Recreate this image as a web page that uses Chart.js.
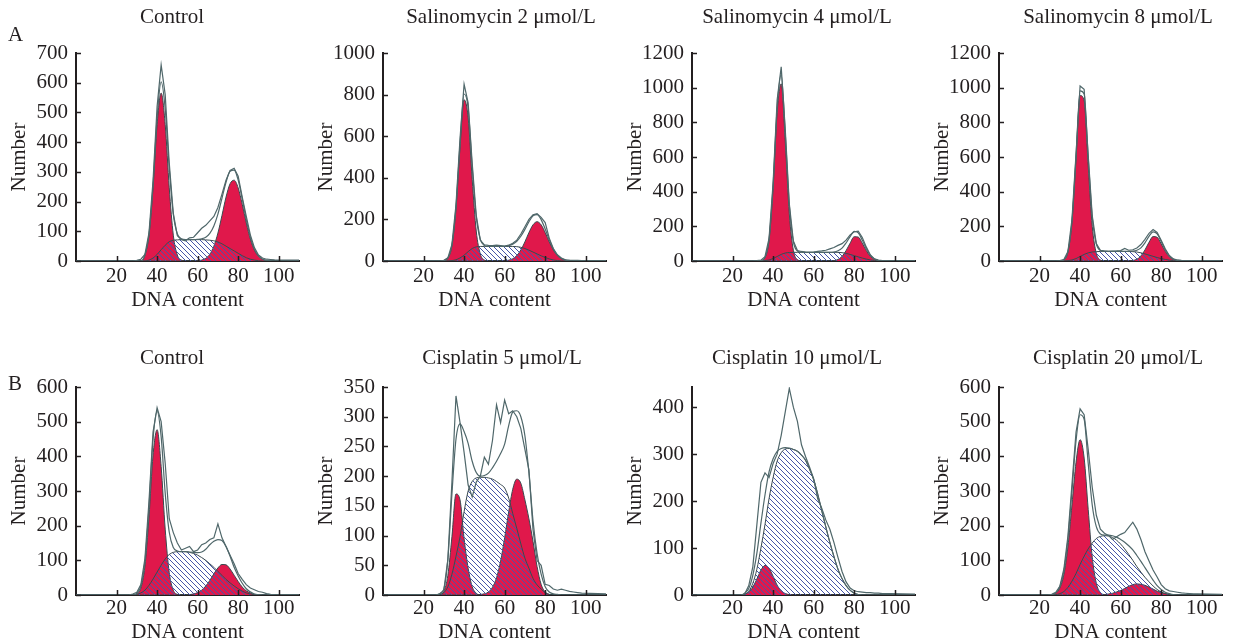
<!DOCTYPE html>
<html>
<head>
<meta charset="utf-8">
<script src="https://cdn.jsdelivr.net/npm/chart.js@4.4.0/dist/chart.umd.min.js"></script>
<style>
  body { margin: 0; background: #fff; }
  #figure { position: relative; width: 1233px; height: 643px; overflow: hidden; }
  #figure canvas { position: absolute; }
</style>
</head>
<body>
<div id="figure"></div>
<script>
// DNA content channels (x), shared by every histogram
const dnaContent = [0, 22, 24, 26, 28, 30, 32, 34, 36, 38, 40, 42, 44, 46, 48, 50, 52, 54, 56, 58, 60,
  62, 64, 66, 68, 70, 72, 74, 76, 78, 80, 82, 84, 86, 88, 90, 92, 94, 96, 98, 110];
const xTicks = [20, 40, 60, 80, 100];

const panelTitles = ['Control', 'Salinomycin 2 μmol/L', 'Salinomycin 4 μmol/L', 'Salinomycin 8 μmol/L',
  'Control', 'Cisplatin 5 μmol/L', 'Cisplatin 10 μmol/L', 'Cisplatin 20 μmol/L'];
const yMax = [700, 1000, 1200, 1200, 600, 350, 443, 600];
const yStep = [100, 200, 200, 200, 100, 50, 100, 100];

// A - control
const ctrlA_g1 = [0, 0,0,0,0,0, 0,20,87,246,459, 565,459,246,87,20, 3,0,0,0,0, 0,0,0,0,0, 0,0,0,0,0, 0,0,0,0,0, 0,0,0,0, 0];
const ctrlA_s = [0, 0,0,0,0,0, 0,0,3,10,22, 38,53,65,70,71, 72,72,72,72,72, 72,71,70,68,64, 58,50,42,34,26, 18,11,6,3,1, 0,0,0,0, 0];
const ctrlA_g2 = [0, 0,0,0,0,0, 0,0,0,0,0, 0,0,0,0,0, 0,0,0,0,1, 3,9,23,50,94, 153,215,260,272,246, 191,128,74,37,16, 6,2,1,0, 0];
const ctrlA_fit = [0, 0,0,0,0,0, 0,20,90,256,481, 603,512,311,157,91, 75,72,72,72,73, 75,80,93,118,158, 211,265,302,306,272, 209,139,80,40,17, 6,2,1,0, 0];
const ctrlA_raw = [0, 0,0,0,0,2, 6,22,95,270,520, 660,560,330,160,85, 72,68,78,80,95, 110,120,135,150,180, 225,272,305,312,285, 215,150,88,45,20, 10,6,5,4, 3];

// A - salinomycin 2
const sal2_g1 = [0, 0,0,0,0,2, 14,74,252,548,775, 690,392,144,34,5, 0,0,0,0,0, 0,0,0,0,0, 0,0,0,0,0, 0,0,0,0,0, 0,0,0,0, 0];
const sal2_s = [0, 0,0,0,0,0, 0,2,6,15,28, 45,60,68,70,70, 70,70,70,70,70, 70,70,69,66,60, 52,43,34,25,17, 10,5,2,1,0, 0,0,0,0, 0];
const sal2_g2 = [0, 0,0,0,0,0, 0,0,0,0,0, 0,0,0,0,0, 0,0,0,0,1, 4,11,26,53,92, 137,174,189,174,137, 92,53,26,11,4, 1,0,0,0, 0];
const sal2_fit = [0, 0,0,0,0,2, 14,76,258,563,803, 735,452,212,104,75, 70,70,70,70,71, 74,81,95,119,152, 189,217,223,199,154, 102,58,28,12,4, 1,0,0,0, 0];
const sal2_raw = [0, 0,0,0,0,3, 15,80,270,590,850, 760,470,220,100,78, 75,74,76,74,72, 76,85,100,130,165, 200,222,228,210,185, 110,60,30,14,6, 4,3,3,2, 2];

// A - salinomycin 4
const sal4_g1 = [0, 0,0,0,0,0, 0,2,19,119,421, 858,1022,689,272,62, 8,1,0,0,0, 0,0,0,0,0, 0,0,0,0,0, 0,0,0,0,0, 0,0,0,0, 0];
const sal4_s = [0, 0,0,0,0,0, 0,0,2,6,14, 26,38,46,49,50, 50,50,50,50,50, 50,50,50,50,50, 50,48,44,38,31, 24,17,11,6,3, 1,0,0,0, 0];
const sal4_g2 = [0, 0,0,0,0,0, 0,0,0,0,0, 0,0,0,0,0, 0,0,0,0,0, 0,0,0,0,2, 9,26,60,103,140, 138,103,60,26,9, 2,0,0,0, 0];
const sal4_fit = [0, 0,0,0,0,0, 0,2,21,125,435, 884,1075,735,321,112, 58,51,50,50,50, 50,50,50,50,52, 59,74,104,141,171, 162,120,71,32,12, 3,0,0,0, 0];
const sal4_raw = [0, 0,0,0,0,0, 2,5,25,130,450, 930,1120,760,330,115, 60,55,52,50,52, 55,58,62,70,78, 90,100,120,150,168, 172,135,80,35,12, 5,3,2,1, 1];

// A - salinomycin 8
const sal8_g1 = [0, 0,0,0,0,0, 7,52,225,590,955, 925,550,200,45,6, 0,0,0,0,0, 0,0,0,0,0, 0,0,0,0,0, 0,0,0,0,0, 0,0,0,0, 0];
const sal8_s = [0, 0,0,0,0,0, 0,2,6,14,26, 38,47,52,54,55, 55,55,55,55,55, 55,55,54,52,47, 41,34,27,20,14, 9,5,2,1,0, 0,0,0,0, 0];
const sal8_g2 = [0, 0,0,0,0,0, 0,0,0,0,0, 0,0,0,0,0, 0,0,0,0,0, 0,1,3,10,29, 64,108,141,137,99, 56,24,8,2,0, 0,0,0,0, 0];
const sal8_fit = [0, 0,0,0,0,0, 7,54,231,604,981, 963,597,252,99,61, 55,55,55,55,55, 55,56,57,62,76, 105,142,168,157,113, 65,29,10,3,0, 0,0,0,0, 0];
const sal8_raw = [0, 0,0,0,0,2, 8,55,240,620,1010, 990,610,260,100,62, 58,56,57,58,60, 72,62,65,75,95, 125,160,182,165,120, 70,32,12,6,4, 3,3,2,2, 1];

// B - control
const ctrlB_g1 = [0, 0,0,0,0,3, 20,83,225,403,477, 371,190,64,14,2, 0,0,0,0,0, 0,0,0,0,0, 0,0,0,0,0, 0,0,0,0,0, 0,0,0,0, 0];
const ctrlB_s = [0, 0,0,0,0,2, 6,14,28,46,66, 86,104,117,123,125, 125,125,123,120,115, 108,100,90,80,68, 57,45,35,26,18, 11,6,3,1,0, 0,0,0,0, 0];
const ctrlB_g2 = [0, 0,0,0,0,0, 0,0,0,0,0, 0,0,0,0,0, 0,0,1,3,7, 14,26,42,61,78, 88,87,75,57,39, 23,12,6,2,1, 0,0,0,0, 0];
const ctrlB_fit = [0, 0,0,0,0,5, 26,97,253,449,530, 457,294,181,137,127, 125,125,124,123,122, 124,132,145,155,160, 157,140,112,80,55, 34,18,9,3,1, 0,0,0,0, 0];
const ctrlB_raw = [0, 0,0,0,3,8, 30,105,270,470,540, 500,380,220,180,150, 130,135,140,125,130, 145,150,160,165,205, 165,140,115,90,62, 45,30,20,15,10, 8,4,2,1, 0];

// B - cisplatin 5
const cis5_g1 = [0, 0,0,0,1,6, 33,98,170,160,95, 45,14,3,0,0, 0,0,0,0,0, 0,0,0,0,0, 0,0,0,0,0, 0,0,0,0,0, 0,0,0,0, 0];
const cis5_s = [0, 0,0,0,1,4, 14,35,65,98,140, 175,191,197,198,198, 197,195,191,186,180, 163,137,112,86,62, 45,28,17,10,4, 1,0,0,0,0, 0,0,0,0, 0];
const cis5_g2 = [0, 0,0,0,0,0, 0,0,0,0,0, 0,0,0,1,2, 5,13,29,57,96, 140,178,195,188,160, 128,90,48,18,5, 1,0,0,0,0, 0,0,0,0, 0];
const cis5_fit = [0, 0,0,0,2,10, 60,170,262,288,275, 255,225,206,200,201, 205,214,225,238,254, 285,308,310,300,268, 205,125,70,35,14, 5,2,1,0,0, 0,0,0,0, 0];
const cis5_raw = [0, 0,0,0,2,8, 60,190,335,290,240, 185,165,190,200,232, 220,260,320,290,328, 305,310,300,280,245, 210,110,58,50,18, 16,10,8,10,8, 6,5,4,3, 2];

// B - cisplatin 10 (no G2 peak fitted)
const cis10_g1 = [0, 0,0,2,6,17, 34,53,63,57,40, 21,9,3,1,0, 0,0,0,0,0, 0,0,0,0,0, 0,0,0,0,0, 0,0,0,0,0, 0,0,0,0, 0];
const cis10_s = [0, 0,0,2,8,25, 55,100,150,205,250, 285,303,311,312,310, 306,298,287,268,246, 215,180,145,112,82, 55,35,20,10,4, 1,0,0,0,0, 0,0,0,0, 0];
const cis10_fit = [0, 0,0,4,14,42, 89,153,213,262,290, 306,312,314,313,310, 306,298,287,268,246, 215,180,145,112,82, 55,35,20,10,4, 1,0,0,0,0, 0,0,0,0, 0];
const cis10_raw = [0, 0,0,2,20,60, 150,240,260,250,280, 300,340,390,440,400, 370,320,295,272,248, 205,185,160,140,112, 80,50,28,15,9, 7,6,5,5,4, 4,3,3,3, 2];

// B - cisplatin 20
const cis20_g1 = [0, 0,0,1,5,20, 59,139,260,383,448, 395,247,109,34,7, 1,0,0,0,0, 0,0,0,0,0, 0,0,0,0,0, 0,0,0,0,0, 0,0,0,0, 0];
const cis20_s = [0, 0,0,0,1,4, 10,22,40,62,88, 112,133,150,163,169, 171,170,166,158,147, 133,117,100,82,66, 51,38,26,16,9, 4,2,0,0,0, 0,0,0,0, 0];
const cis20_g2 = [0, 0,0,0,0,0, 0,0,0,0,0, 0,0,0,0,0, 1,3,5,9,13, 19,25,30,32,31, 28,23,17,11,7, 4,2,1,0,0, 0,0,0,0, 0];
const cis20_fit = [0, 0,0,1,6,24, 69,161,300,445,520, 507,380,259,197,176, 173,173,171,167,160, 152,142,130,114,97, 79,61,43,27,16, 8,4,1,0,0, 0,0,0,0, 0];
const cis20_raw = [0, 0,0,2,8,25, 75,170,320,470,537, 520,420,310,230,190, 178,172,160,168,175, 180,195,210,190,160, 125,98,72,52,30, 18,12,10,8,6, 5,4,3,3, 2];

const series = [
  [ctrlA_g1, ctrlA_s, ctrlA_g2, ctrlA_fit, ctrlA_raw],
  [sal2_g1, sal2_s, sal2_g2, sal2_fit, sal2_raw],
  [sal4_g1, sal4_s, sal4_g2, sal4_fit, sal4_raw],
  [sal8_g1, sal8_s, sal8_g2, sal8_fit, sal8_raw],
  [ctrlB_g1, ctrlB_s, ctrlB_g2, ctrlB_fit, ctrlB_raw],
  [cis5_g1, cis5_s, cis5_g2, cis5_fit, cis5_raw],
  [cis10_g1, cis10_s, null, cis10_fit, cis10_raw],
  [cis20_g1, cis20_s, cis20_g2, cis20_fit, cis20_raw]
];

// layout (pixels)
const colLeft = [0, 307, 616, 923];
const rowTop = [0, 330], rowHeight = [312, 313], plotTop = [53, 57], xAxisH = [51, 48];
const titleY = [17, 28], letterY = [35, 54], xTickPad = [5, 3], xTitlePad = [1.5, 0];
const titleX = [172, 194, 181, 195, 172, 195, 181, 195];

const ink = '#231f20';
const trace = '#4f676a';
const edge = '#3a4a4f';
const red = '#e0184b';
const serif = '"Liberation Serif", "Times New Roman", serif';
const fontSize = 21;

function hatch(color) {
  const c = document.createElement('canvas');
  c.width = c.height = 5;
  const g = c.getContext('2d');
  g.strokeStyle = color;
  g.lineWidth = 1;
  g.beginPath();
  g.moveTo(-1, -1); g.lineTo(6, 6);
  g.moveTo(-1, 4); g.lineTo(1, 6);
  g.moveTo(4, -1); g.lineTo(6, 1);
  g.stroke();
  return g.createPattern(c, 'repeat');
}
const sPattern = hatch('#4656a8');

// inward tick marks, panel title and panel letter
const panelDecor = {
  id: 'panelDecor',
  afterDraw(chart, args, opts) {
    const {ctx, chartArea, scales: {x, y}} = chart;
    ctx.save();
    ctx.strokeStyle = ink;
    ctx.lineWidth = 1.5;
    ctx.beginPath();
    x.ticks.forEach(t => {
      const px = Math.round(x.getPixelForValue(t.value)) + 0.5;
      ctx.moveTo(px, chartArea.bottom);
      ctx.lineTo(px, chartArea.bottom - 5);
    });
    y.ticks.forEach(t => {
      const py = Math.round(y.getPixelForValue(t.value)) + 0.5;
      ctx.moveTo(chartArea.left, py);
      ctx.lineTo(chartArea.left + 5, py);
    });
    ctx.stroke();
    ctx.fillStyle = ink;
    ctx.font = fontSize + 'px ' + serif;
    ctx.textAlign = 'center';
    ctx.textBaseline = 'middle';
    ctx.fillText(opts.title, opts.titleX, opts.titleY);
    if (opts.letter) {
      ctx.textAlign = 'left';
      ctx.fillText(opts.letter, 8, opts.letterY);
    }
    ctx.restore();
  }
};

function toPoints(vals) {
  return vals.map((v, k) => ({x: dnaContent[k], y: v}));
}

const fig = document.getElementById('figure');

panelTitles.forEach((title, i) => {
  const row = i < 4 ? 0 : 1;
  const col = i % 4;
  const [g1, s, g2, fit, raw] = series[i];

  const canvas = document.createElement('canvas');
  canvas.width = 300;
  canvas.height = rowHeight[row];
  canvas.style.left = colLeft[col] + 'px';
  canvas.style.top = rowTop[row] + 'px';
  fig.appendChild(canvas);

  const datasets = [
    {label: 'raw', data: toPoints(raw), borderColor: trace, borderWidth: 1.2, tension: 0, fill: false, order: 1},
    {label: 'fit', data: toPoints(fit), borderColor: trace, borderWidth: 1.2, cubicInterpolationMode: 'monotone', fill: false, order: 2},
    {label: 'S', data: toPoints(s), borderColor: edge, borderWidth: 1, backgroundColor: sPattern, cubicInterpolationMode: 'monotone', fill: 'origin', order: 3}
  ];
  if (g2) {
    datasets.push({label: 'G2', data: toPoints(g2), borderColor: edge, borderWidth: 1, backgroundColor: red, cubicInterpolationMode: 'monotone', fill: 'origin', order: 4});
  }
  datasets.push({label: 'G1', data: toPoints(g1), borderColor: edge, borderWidth: 1, backgroundColor: red, cubicInterpolationMode: 'monotone', fill: 'origin', order: 5});

  new Chart(canvas, {
    type: 'line',
    data: {datasets},
    options: {
      responsive: false,
      animation: false,
      layout: {padding: {top: plotTop[row], right: 1, left: 0, bottom: 0}},
      elements: {point: {radius: 0}},
      plugins: {
        legend: {display: false},
        tooltip: {enabled: false},
        panelDecor: {title, titleX: titleX[i], titleY: titleY[row], letter: col === 0 ? (row === 0 ? 'A' : 'B') : null, letterY: letterY[row]}
      },
      scales: {
        x: {
          type: 'linear', min: 0, max: 110, z: 1,
          grid: {display: false, drawTicks: false},
          border: {display: true, color: ink, width: 2},
          afterBuildTicks: sc => { sc.ticks = xTicks.map(v => ({value: v})); },
          afterFit: sc => { sc.height = xAxisH[row]; },
          ticks: {color: ink, autoSkip: false, maxRotation: 0, padding: xTickPad[row], font: {family: serif, size: fontSize, lineHeight: 1}, callback: v => String(v)},
          title: {display: true, text: 'DNA content', color: ink, font: {family: serif, size: fontSize, lineHeight: 1}, padding: {top: 0, bottom: xTitlePad[row]}}
        },
        y: {
          min: 0, max: yMax[i], z: 1,
          grid: {display: false, drawTicks: false},
          border: {display: true, color: ink, width: 2},
          afterFit: sc => { sc.width = 76; },
          ticks: {stepSize: yStep[i], includeBounds: false, color: ink, padding: 8, font: {family: serif, size: fontSize, lineHeight: 1}, callback: v => String(v)},
          title: {display: true, text: 'Number', color: ink, font: {family: serif, size: fontSize, lineHeight: 1.2}, padding: {top: 7, bottom: 0}}
        }
      }
    },
    plugins: [panelDecor]
  });
});
</script>
</body>
</html>
